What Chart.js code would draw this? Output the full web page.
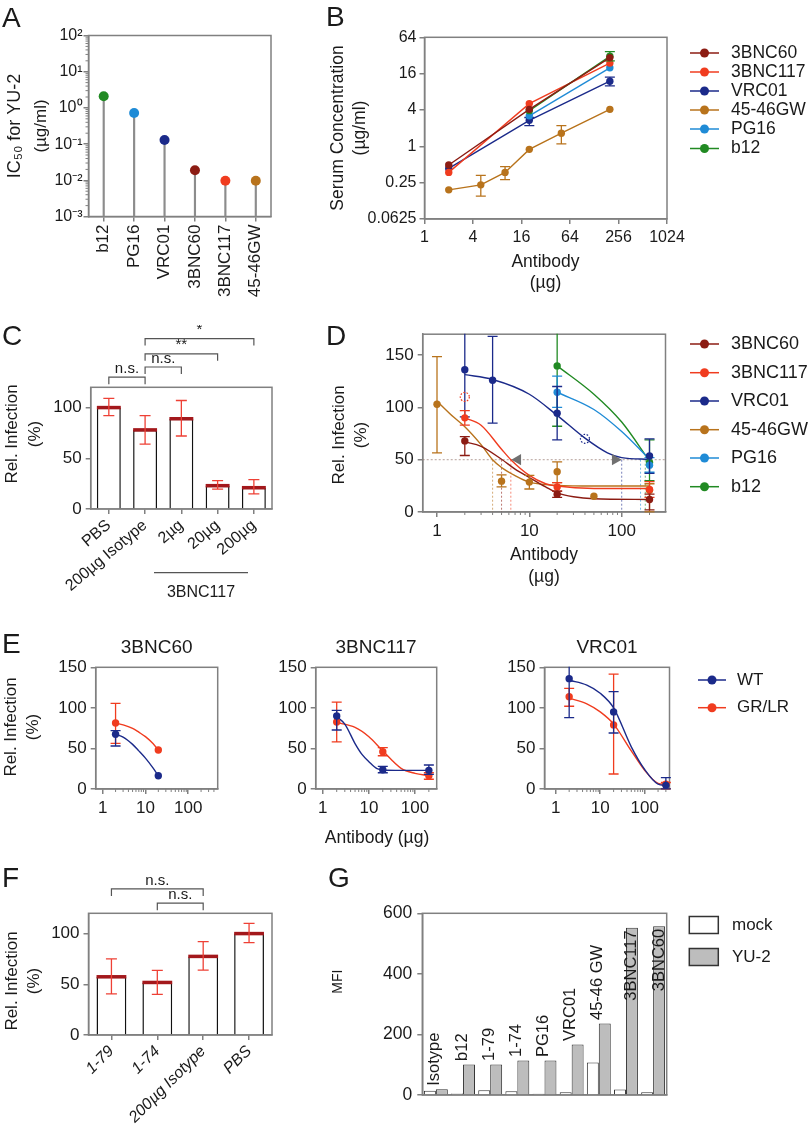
<!DOCTYPE html>
<html>
<head>
<meta charset="utf-8">
<script src="https://cdn.jsdelivr.net/npm/chart.js@4.4.1/dist/chart.umd.min.js"></script>
<style>
  body { margin: 0; background: #fff; }
  #page { position: relative; width: 810px; height: 1142px; overflow: hidden; background: #fff; }
  #page canvas { position: absolute; }
</style>
</head>
<body>
<div id="page"></div>
<script>
// ---- A: IC50 for YU-2 ----
const aLabels = ['b12', 'PG16', 'VRC01', '3BNC60', '3BNC117', '45-46GW'];
const aIC50 = [2.1, 0.72, 0.13, 0.019, 0.0097, 0.0097];
const aTicks = [0.001, 0.01, 0.1, 1, 10, 100];
const aTickText = ['10⁻³', '10⁻²', '10⁻¹', '10⁰', '10¹', '10²'];

// ---- B: serum concentration ----
const abNames = ['3BNC60', '3BNC117', 'VRC01', '45-46GW', 'PG16', 'b12'];
const bDose3 = [2, 20, 200];
const bDose2 = [20, 200];
const bDoseGW = [2, 5, 10, 20, 50, 200];
const b3BNC60 = [0.49, 4.1, 29.5];
const b3BNC117 = [0.37, 5.1, 24];
const bVRC01 = [0.43, 2.7, 12];
const bGW = [0.19, 0.23, 0.37, 0.89, 1.65, 4.1];
const bPG16 = [3.2, 20];
const bB12 = [3.9, 31];
const bErrVRC01 = [null, [2.2, 3.0], [10, 14]];
const bErrGW = [null, [0.15, 0.33], [0.28, 0.46], null, [1.1, 2.2], null];
const bErrB12 = [null, [26, 37]];
const bYTicks = [0.0625, 0.25, 1, 4, 16, 64];
const bXTicks = [1, 4, 16, 64, 256, 1024];

// ---- C: 3BNC117 dose ----
const cLabels = ['PBS', '200µg Isotype', '2µg', '20µg', '200µg'];
const cMean = [100, 78, 89, 23, 21];
const cErr = [[92, 109], [64, 92], [72, 107], [19.5, 28], [15, 29]];
const cBrackets = [[0, 1, 130, 'n.s.'], [1, 2, 140, 'n.s.'], [1, 3, 153, '**'], [1, 4, 168, '*']];
const pctTicks = [0, 50, 100];

// ---- D: relative infection ----
const d60X = [2, 20, 200], d60Y = [68, 17, 12], d60Err = [[54, 72], [14, 20], [2, 17]];
const d117X = [2, 20, 200], d117Y = [90, 24, 21.5], d117Err = [[83, 97], [20, 28], [14, 29]];
const dVRCX = [2, 4, 20, 200], dVRCY = [136, 126, 94.5, 53.5], dVRCErr = [[91, 185], [85, 168], [69, 120], [37, 70]];
const dGWX = [1, 5, 10, 20, 50, 200], dGWY = [103, 29.5, 28.6, 38.6, 15, 20.8];
const dGWErr = [[56.5, 148.5], [24, 35.5], [22, 35], [28, 48], null, [0, 27]];
const dPGX = [20, 200], dPGY = [114.5, 44.8], dPGErr = [[100, 130], [38, 52]];
const dB12X = [20, 200], dB12Y = [139.7, 47.3], dB12Err = [[82, 185], [30, 69]];
const d60FitX = [2, 3, 5, 7, 10, 15, 20, 30, 50, 200];
const d60Fit = [67, 62.8, 50.4, 41, 33, 24, 18.3, 14.6, 12.7, 12];
const d117FitX = [2, 3, 5, 6.3, 10, 15, 20, 50, 200];
const d117Fit = [90, 83, 60, 50, 35, 27, 24.8, 22.5, 22.4];
const dVRCFitX = [2, 4, 10, 20, 40, 70, 100, 200];
const dVRCFit = [131.3, 126.7, 112.6, 92.4, 70.6, 56.6, 52, 50.4];
const dGWFitX = [1, 1.5, 2, 3, 4, 5, 7, 10, 20, 50, 200];
const dGWFit = [106, 91, 81.5, 64.4, 50, 42.6, 34.8, 28.6, 25.5, 24.8, 24.8];
const dPGFitX = [20, 50, 100, 200], dPGFit = [114.5, 98, 76.9, 50.4];
const dB12FitX = [20, 50, 100, 200], dB12Fit = [139.7, 112.6, 86, 48.8];
const dIC50 = [5.0, 6.3, 100, 4.0, 160, 180];
const dArrowX = [7.5, 85], dArrowY = [50, 50];
const dOutX = [2, 40], dOutY = [110, 70];
const dYTicks = [0, 50, 100, 150];
const decTicks = [1, 10, 100];

// ---- E: WT vs GR/LR ----
const e60X = [2, 20];
const e60WT = [67.4, 16.4], e60WTErr = [[53, 72], null];
const e60GR = [81.3, 48], e60GRErr = [[56.3, 105.6], null];
const e60FitX = [2, 3, 5, 7, 10, 15, 20];
const e60WTFit = [67.4, 64, 55, 47, 38, 26, 16.4];
const e60GRFit = [81.3, 79, 74.8, 70, 64.5, 56, 48];
const e117X = [2, 20, 200];
const e117WT = [90, 23.8, 23], e117WTErr = [[72.7, 97], [20, 28], [18, 29.6]];
const e117GR = [82.6, 46, 16.4], e117GRErr = [[58, 107], [41, 51], [12, 20]];
const e117WTFitX = [2, 3, 5, 7, 10, 15, 20, 50, 200];
const e117WTFit = [89, 80, 56, 43, 33.7, 25, 23.5, 23, 23];
const e117GRFitX = [2, 5, 10, 20, 50, 100, 200];
const e117GRFit = [82, 76, 64.5, 47, 25.5, 19.3, 16.4];
const eVRCX = [2, 20, 300];
const eVRCWT = [136, 95, 4.5], eVRCWTErr = [[88, 185], [69, 120], [0, 14]];
const eVRCGR = [113.8, 79, 5.8], eVRCGRErr = [[102, 124], [18.5, 141.7], [0, 8]];
const eVRCFitX = [2, 5, 10, 20, 50, 100, 200, 300];
const eVRCWTFit = [134, 128, 118, 100, 52, 24, 6, 4.5];
const eVRCGRFit = [112, 105, 95, 80, 47, 23, 7, 5.8];
const eYTicks = [0, 50, 100, 150];

// ---- F: other antibodies ----
const fLabels = ['1-79', '1-74', '200µg Isotype', 'PBS'];
const fMean = [57.4, 51.8, 77.5, 100];
const fErr = [[40.6, 75], [40, 63.7], [64, 92], [91, 110]];
const fBrackets = [[0, 2, 144, 'n.s.'], [1, 2, 130, 'n.s.']];

// ---- G: MFI ----
const gLabels = ['Isotype', 'b12', '1-79', '1-74', 'PG16', 'VRC01', '45-46 GW', '3BNC117', '3BNC60'];
const gMock = [14, 5, 16, 12, 4, 9, 107, 18, 9];
const gYU2 = [19, 101, 101, 114, 114, 167, 236, 552, 557];
const gTicks = [0, 200, 400, 600];

// ---- styling ----
const FONT = "'Liberation Sans', Arial, sans-serif";
const INK = '#1a1a1a';
const AXIS = '#808080';
const COL = {
  '3BNC60': '#8c1c13', '3BNC117': '#f03c1f', 'VRC01': '#1b2a8a',
  '45-46GW': '#b8731c', 'PG16': '#1f8bd6', 'b12': '#218a23'
};
const WTC = '#1b2a8a', GRC = '#f03c1f';

Chart.defaults.font.family = FONT;
Chart.defaults.color = INK;
Chart.defaults.animation = false;
Chart.defaults.responsive = false;
Chart.defaults.devicePixelRatio = 1;
Chart.defaults.plugins.legend.display = false;
Chart.defaults.plugins.tooltip.enabled = false;

const extras = new Map();

function xy(xs, ys) { return xs.map((x, i) => ({ x: x, y: ys[i] })); }

function logMinors(lo, hi) {
  const out = [];
  for (let e = Math.floor(Math.log10(lo)); e <= Math.ceil(Math.log10(hi)); e++)
    for (let m = 2; m <= 9; m++) {
      const v = m * Math.pow(10, e);
      if (v > lo * 1.0001 && v < hi * 0.9999) out.push(v);
    }
  return out;
}

function axis(o) {
  const ax = {
    type: o.type || 'linear',
    offset: !!o.offset,
    grid: { drawOnChartArea: false, drawTicks: !o.noTicks, tickLength: 5, color: AXIS, tickColor: AXIS, tickWidth: 1.5, lineWidth: 1.5, offset: false },
    border: { color: AXIS, width: 1.5 },
    ticks: { display: !o.noLabels, font: { size: o.size || 17, style: o.italic ? 'italic' : 'normal' }, color: INK, padding: o.pad ?? 3, autoSkip: false, maxRotation: o.rot || 0, minRotation: o.rot || 0 }
  };
  if (o.min !== undefined) ax.min = o.min;
  if (o.max !== undefined) ax.max = o.max;
  if (o.fmt) ax.ticks.callback = o.fmt;
  if (o.major) ax.afterBuildTicks = s => { s.ticks = o.major.map(v => ({ value: v })); };
  return ax;
}

function panel(box, area, config, ex) {
  const cv = document.createElement('canvas');
  cv.width = box[2]; cv.height = box[3];
  cv.style.left = box[0] + 'px'; cv.style.top = box[1] + 'px';
  cv.style.width = box[2] + 'px'; cv.style.height = box[3] + 'px';
  document.getElementById('page').appendChild(cv);
  ex.box = box;
  extras.set(cv, ex);
  const o = config.options;
  o.layout = { padding: { left: 0, top: area.t - box[1], right: box[0] + box[2] - area.r, bottom: 0 } };
  Object.values(o.scales).forEach(sc => {
    sc.afterFit = s => {
      if (s.isHorizontal()) s.height = box[1] + box[3] - area.b;
      else s.width = area.l - box[0];
    };
  });
  return new Chart(cv, config);
}

function drawErrors(chart, index) {
  const ds = chart.data.datasets[index];
  const meta = chart.getDatasetMeta(index);
  const ys = chart.scales[meta.yAxisID];
  const a = chart.chartArea, ctx = chart.ctx;
  const w = ds.capHalf || 5;
  ctx.save();
  ctx.beginPath();
  ctx.rect(a.left - 10, a.top - 0.5, a.right - a.left + 20, a.bottom - a.top + 1);
  ctx.clip();
  ctx.strokeStyle = ds.errorColor || ds.borderColor;
  ctx.lineWidth = ds.errorWidth || 1.3;
  meta.data.forEach((el, j) => {
    const e = ds.errors[j];
    if (!e) return;
    const lo = ys.getPixelForValue(e[0]), hi = ys.getPixelForValue(e[1]);
    ctx.beginPath();
    ctx.moveTo(el.x, lo); ctx.lineTo(el.x, hi);
    ctx.moveTo(el.x - w, lo); ctx.lineTo(el.x + w, lo);
    ctx.moveTo(el.x - w, hi); ctx.lineTo(el.x + w, hi);
    ctx.stroke();
  });
  ctx.restore();
}

function drawMeans(chart, index) {
  const ds = chart.data.datasets[index];
  const ctx = chart.ctx;
  ctx.save();
  ctx.strokeStyle = ds.meanColor;
  ctx.lineWidth = 3.5;
  chart.getDatasetMeta(index).data.forEach(el => {
    ctx.beginPath();
    ctx.moveTo(el.x - el.width / 2, el.y);
    ctx.lineTo(el.x + el.width / 2, el.y);
    ctx.stroke();
  });
  ctx.restore();
}

function drawBrackets(chart, list) {
  const ctx = chart.ctx, xs = chart.scales.x, ys = chart.scales.y;
  ctx.save();
  ctx.strokeStyle = '#555'; ctx.lineWidth = 1.2; ctx.fillStyle = INK;
  ctx.font = '15px ' + FONT; ctx.textAlign = 'center'; ctx.textBaseline = 'bottom';
  list.forEach(([a, b, v, t]) => {
    const x1 = xs.getPixelForValue(a), x2 = xs.getPixelForValue(b), y = ys.getPixelForValue(v);
    ctx.beginPath();
    ctx.moveTo(x1, y + 7); ctx.lineTo(x1, y); ctx.lineTo(x2, y); ctx.lineTo(x2, y + 7);
    ctx.stroke();
    ctx.fillText(t, (x1 + x2) / 2, y - 1);
  });
  ctx.restore();
}

function drawText(ctx, box, it) {
  ctx.save();
  ctx.font = (it.italic ? 'italic ' : '') + (it.size || 17) + 'px ' + FONT;
  ctx.fillStyle = it.color || INK;
  ctx.textAlign = it.align || 'center';
  ctx.textBaseline = it.base || 'middle';
  ctx.translate(it.x - box[0], it.y - box[1]);
  if (it.rot) ctx.rotate(it.rot * Math.PI / 180);
  ctx.fillText(it.t, 0, 0);
  ctx.restore();
}

function drawLegend(ctx, box, lg) {
  ctx.save();
  lg.items.forEach((it, i) => {
    const y = lg.ys[i] - box[1];
    const x1 = lg.x1 - box[0], x2 = lg.x2 - box[0];
    if (lg.kind === 'rect') {
      ctx.fillStyle = it.fill;
      ctx.fillRect(x1, y - lg.h / 2, x2 - x1, lg.h);
      ctx.strokeStyle = '#333'; ctx.lineWidth = 1.5;
      ctx.strokeRect(x1, y - lg.h / 2, x2 - x1, lg.h);
    } else {
      ctx.strokeStyle = it.color; ctx.lineWidth = 1.5;
      ctx.beginPath(); ctx.moveTo(x1, y); ctx.lineTo(x2, y); ctx.stroke();
      ctx.fillStyle = it.color;
      ctx.beginPath(); ctx.arc((x1 + x2) / 2, y, 4.5, 0, Math.PI * 2); ctx.fill();
    }
    ctx.fillStyle = INK;
    ctx.font = lg.size + 'px ' + FONT;
    ctx.textAlign = 'left'; ctx.textBaseline = 'middle';
    ctx.fillText(it.label, lg.tx - box[0], y);
  });
  ctx.restore();
}

const deco = {
  id: 'deco',
  beforeDatasetsDraw(chart) {
    const ex = extras.get(chart.canvas);
    if (!ex) return;
    const ctx = chart.ctx, a = chart.chartArea;
    ctx.save();
    ctx.strokeStyle = AXIS; ctx.lineWidth = 1;
    (ex.minor || []).forEach(m => {
      const sc = chart.scales[m.axis];
      m.values.forEach(v => {
        const p = sc.getPixelForValue(v);
        ctx.beginPath();
        if (m.axis === 'x') { ctx.moveTo(p, a.bottom); ctx.lineTo(p, a.bottom + 3); }
        else { ctx.moveTo(a.left, p); ctx.lineTo(a.left - 3, p); }
        ctx.stroke();
      });
    });
    // box frame
    ctx.lineWidth = 1.5;
    ctx.strokeRect(a.left, a.top, a.right - a.left, a.bottom - a.top);
    ctx.restore();
    if (ex.under) ex.under(chart, ctx);
  },
  beforeDatasetDraw(chart, args) {
    const ds = chart.data.datasets[args.index];
    if (ds.errors && !ds.errorsOnTop) drawErrors(chart, args.index);
  },
  afterDatasetDraw(chart, args) {
    const ds = chart.data.datasets[args.index];
    if (ds.meanColor) drawMeans(chart, args.index);
    if (ds.errors && ds.errorsOnTop) drawErrors(chart, args.index);
  },
  afterDraw(chart) {
    const ex = extras.get(chart.canvas);
    if (!ex) return;
    const ctx = chart.ctx, box = ex.box;
    if (ex.over) ex.over(chart, ctx);
    if (ex.brackets) drawBrackets(chart, ex.brackets);
    (ex.lines || []).forEach(l => {
      ctx.save(); ctx.strokeStyle = '#555'; ctx.lineWidth = 1.2;
      ctx.beginPath(); ctx.moveTo(l[0] - box[0], l[1] - box[1]); ctx.lineTo(l[2] - box[0], l[3] - box[1]); ctx.stroke();
      ctx.restore();
    });
    (ex.texts || []).forEach(t => drawText(ctx, box, t));
    if (ex.legend) drawLegend(ctx, box, ex.legend);
  }
};
Chart.register(deco);

function letter(t, x, y) { return { t: t, x: x, y: y, size: 28, align: 'left', base: 'alphabetic' }; }
function vtitle(t, x, y, size) { return { t: t, x: x, y: y, size: size || 17, rot: -90 }; }

function pointSet(label, color, xs, ys, err) {
  return { type: 'line', label: label, data: xy(xs, ys), showLine: false, pointRadius: 3.7, pointHoverRadius: 3.7,
    pointBackgroundColor: color, pointBorderWidth: 0, borderColor: color, errors: err, capHalf: 5, order: 0, clip: 12 };
}
function fitSet(color, xs, ys) {
  return { type: 'line', data: xy(xs, ys), pointRadius: 0, borderColor: color, borderWidth: 1.4,
    cubicInterpolationMode: 'monotone', order: 1 };
}
function lineSet(label, color, xs, ys, err) {
  const s = pointSet(label, color, xs, ys, err);
  s.showLine = true; s.borderWidth = 1.4; s.tension = 0;
  return s;
}

// ================= A =================
panel([0, 0, 290, 325], { l: 88.5, t: 35.5, r: 271, b: 216.5 }, {
  type: 'bar',
  data: {
    labels: aLabels,
    datasets: [
      { type: 'line', data: aIC50, showLine: false, pointRadius: 5, pointHoverRadius: 5,
        pointBackgroundColor: aLabels.map(n => COL[n]), pointBorderWidth: 0, order: 0, clip: 12 },
      { type: 'bar', data: aIC50.map(v => [aTicks[0], v]), backgroundColor: '#8c8c8c', barThickness: 1.5, order: 1 }
    ]
  },
  options: {
    scales: {
      x: axis({ type: 'category', offset: true, rot: 90, size: 17 }),
      y: axis({ type: 'logarithmic', min: aTicks[0], max: aTicks[aTicks.length - 1], major: aTicks,
        fmt: (v, i) => aTickText[i], size: 16, pad: 1 })
    }
  }
}, {
  minor: [{ axis: 'y', values: logMinors(0.001, 100) }],
  texts: [letter('A', 2, 27), vtitle('IC₅₀ for YU-2', 15, 126, 18), vtitle('(µg/ml)', 41, 126, 17)]
});

// ================= B =================
panel([320, 0, 490, 320], { l: 424.5, t: 37.3, r: 667, b: 219 }, {
  type: 'line',
  data: {
    datasets: [
      lineSet('3BNC60', COL['3BNC60'], bDose3, b3BNC60, null),
      lineSet('b12', COL['b12'], bDose2, bB12, bErrB12),
      lineSet('3BNC117', COL['3BNC117'], bDose3, b3BNC117, null),
      lineSet('PG16', COL['PG16'], bDose2, bPG16, null),
      lineSet('VRC01', COL['VRC01'], bDose3, bVRC01, bErrVRC01),
      lineSet('45-46GW', COL['45-46GW'], bDoseGW, bGW, bErrGW)
    ]
  },
  options: {
    scales: {
      x: axis({ type: 'logarithmic', min: 1, max: 1024, major: bXTicks, fmt: v => String(v), size: 16, pad: 4 }),
      y: axis({ type: 'logarithmic', min: 0.0625, max: 64, major: bYTicks, fmt: v => String(v), size: 16, pad: 3 })
    }
  }
}, {
  texts: [letter('B', 326, 26), vtitle('Serum Concentration', 338, 128, 17.5), vtitle('(µg/ml)', 360, 128, 17.5),
    { t: 'Antibody', x: 545.5, y: 262, size: 17.5 }, { t: '(µg)', x: 545.5, y: 283, size: 17.5 }],
  legend: { x1: 690, x2: 719, tx: 731, size: 17.5, ys: [53, 72, 91, 110, 129, 148.5],
    items: abNames.map(n => ({ label: n, color: COL[n] })) }
});

// ================= C =================
panel([0, 325, 300, 290], { l: 90.7, t: 387.3, r: 272, b: 509 }, {
  type: 'bar',
  data: {
    labels: cLabels,
    datasets: [{ data: cMean, backgroundColor: '#fff', borderColor: '#111', borderWidth: 1.5,
      barPercentage: 0.66, categoryPercentage: 1, meanColor: '#a3181c',
      errors: cErr, errorsOnTop: true, errorColor: '#ee4035', capHalf: 5.5 }]
  },
  options: {
    scales: {
      x: axis({ type: 'category', offset: true, rot: 40, size: 16, pad: 2 }),
      y: axis({ min: 0, max: 120, major: pctTicks, size: 17, pad: 4 })
    }
  }
}, {
  brackets: cBrackets,
  lines: [[154, 572.7, 248, 572.7]],
  texts: [letter('C', 2, 345), vtitle('Rel. Infection', 12, 434), vtitle('(%)', 35, 434),
    { t: '3BNC117', x: 201, y: 593, size: 16 }]
});

// ================= D =================
panel([320, 320, 490, 290], { l: 422.7, t: 330, r: 665.5, b: 512 }, {
  type: 'line',
  data: {
    datasets: [
      pointSet('3BNC60', COL['3BNC60'], d60X, d60Y, d60Err),
      pointSet('3BNC117', COL['3BNC117'], d117X, d117Y, d117Err),
      pointSet('VRC01', COL['VRC01'], dVRCX, dVRCY, dVRCErr),
      pointSet('45-46GW', COL['45-46GW'], dGWX, dGWY, dGWErr),
      pointSet('PG16', COL['PG16'], dPGX, dPGY, dPGErr),
      pointSet('b12', COL['b12'], dB12X, dB12Y, dB12Err),
      fitSet(COL['3BNC60'], d60FitX, d60Fit),
      fitSet(COL['3BNC117'], d117FitX, d117Fit),
      fitSet(COL['VRC01'], dVRCFitX, dVRCFit),
      fitSet(COL['45-46GW'], dGWFitX, dGWFit),
      fitSet(COL['PG16'], dPGFitX, dPGFit),
      fitSet(COL['b12'], dB12FitX, dB12Fit),
      { type: 'line', data: xy(dArrowX, dArrowY), showLine: false, pointStyle: 'triangle', pointRadius: 6.5,
        pointRotation: [-90, 90], pointBackgroundColor: '#707070', pointBorderWidth: 0, order: 0 }
    ]
  },
  options: {
    scales: {
      x: axis({ type: 'logarithmic', min: 0.706, max: 298, major: decTicks, fmt: v => String(v), size: 17, pad: 4 }),
      y: axis({ min: 0, max: 170, major: dYTicks, size: 17, pad: 4 })
    }
  }
}, {
  minor: [{ axis: 'x', values: logMinors(0.706, 298).filter(v => v > 1) }],
  under(chart, ctx) {
    const xs = chart.scales.x, ys = chart.scales.y, a = chart.chartArea;
    const y50 = ys.getPixelForValue(50);
    ctx.save();
    ctx.lineWidth = 1; ctx.setLineDash([2, 2]);
    ctx.strokeStyle = 'rgba(150,120,110,0.7)';
    ctx.beginPath(); ctx.moveTo(a.left, y50); ctx.lineTo(a.right, y50); ctx.stroke();
    dIC50.forEach((v, i) => {
      const x = xs.getPixelForValue(v);
      ctx.strokeStyle = COL[abNames[i]];
      ctx.globalAlpha = 0.6;
      ctx.beginPath(); ctx.moveTo(x, y50); ctx.lineTo(x, a.bottom); ctx.stroke();
    });
    ctx.restore();
  },
  over(chart, ctx) {
    const xs = chart.scales.x, ys = chart.scales.y;
    const cols = [COL['3BNC117'], COL['VRC01']];
    ctx.save();
    ctx.lineWidth = 1.2; ctx.setLineDash([1.6, 1.6]);
    dOutX.forEach((v, i) => {
      ctx.strokeStyle = cols[i];
      ctx.beginPath(); ctx.arc(xs.getPixelForValue(v), ys.getPixelForValue(dOutY[i]), 4.5, 0, Math.PI * 2); ctx.stroke();
    });
    ctx.restore();
  },
  texts: [letter('D', 326, 345), vtitle('Rel. Infection', 339, 435), vtitle('(%)', 361, 435),
    { t: 'Antibody', x: 544, y: 555, size: 17.5 }, { t: '(µg)', x: 544, y: 577, size: 17.5 }],
  legend: { x1: 690, x2: 719, tx: 731, size: 18, ys: [344, 372.7, 401, 429.7, 458, 486.7],
    items: abNames.map(n => ({ label: n, color: COL[n] })) }
});

// ================= E =================
function ePanel(box, area, xmax, xmin, sets, ex) {
  return panel(box, area, {
    type: 'line',
    data: { datasets: sets },
    options: {
      scales: {
        x: axis({ type: 'logarithmic', min: xmin, max: xmax, major: decTicks, fmt: v => String(v), size: 17, pad: 4 }),
        y: axis({ min: 0, max: 150, major: eYTicks, size: 17, pad: 4 })
      }
    }
  }, Object.assign({ minor: [{ axis: 'x', values: logMinors(xmin, xmax).filter(v => v > 1) }] }, ex));
}

ePanel([0, 615, 240, 240], { l: 95.7, t: 667.3, r: 217.7, b: 789 }, 490, 0.686, [
  pointSet('WT', WTC, e60X, e60WT, e60WTErr),
  pointSet('GR/LR', GRC, e60X, e60GR, e60GRErr),
  fitSet(WTC, e60FitX, e60WTFit),
  fitSet(GRC, e60FitX, e60GRFit)
], {
  texts: [letter('E', 2, 653), { t: '3BNC60', x: 156.7, y: 648, size: 19 },
    vtitle('Rel. Infection', 11, 727), vtitle('(%)', 33, 727)]
});

ePanel([240, 630, 215, 225], { l: 315.7, t: 667.3, r: 436.7, b: 789 }, 296, 0.72, [
  pointSet('WT', WTC, e117X, e117WT, e117WTErr),
  pointSet('GR/LR', GRC, e117X, e117GR, e117GRErr),
  fitSet(WTC, e117WTFitX, e117WTFit),
  fitSet(GRC, e117GRFitX, e117GRFit)
], {
  texts: [{ t: '3BNC117', x: 376, y: 648, size: 19 }, { t: 'Antibody (µg)', x: 377, y: 838, size: 17.5 }]
});

ePanel([455, 630, 355, 225], { l: 544.5, t: 667.3, r: 669.5, b: 789 }, 362, 0.557, [
  pointSet('WT', WTC, eVRCX, eVRCWT, eVRCWTErr),
  pointSet('GR/LR', GRC, eVRCX, eVRCGR, eVRCGRErr),
  fitSet(WTC, eVRCFitX, eVRCWTFit),
  fitSet(GRC, eVRCFitX, eVRCGRFit)
], {
  texts: [{ t: 'VRC01', x: 607, y: 648, size: 19 }],
  legend: { x1: 698, x2: 726, tx: 737, size: 17, ys: [680, 707.7],
    items: [{ label: 'WT', color: WTC }, { label: 'GR/LR', color: GRC }] }
});

// ================= F =================
panel([0, 855, 300, 287], { l: 88.5, t: 913.3, r: 272, b: 1035 }, {
  type: 'bar',
  data: {
    labels: fLabels,
    datasets: [{ data: fMean, backgroundColor: '#fff', borderColor: '#111', borderWidth: 1.5,
      barPercentage: 0.65, categoryPercentage: 1, meanColor: '#a3181c',
      errors: fErr, errorsOnTop: true, errorColor: '#ee4035', capHalf: 5.5 }]
  },
  options: {
    scales: {
      x: axis({ type: 'category', offset: true, rot: 45, size: 16, pad: 2, italic: true }),
      y: axis({ min: 0, max: 120, major: pctTicks, size: 17, pad: 4 })
    }
  }
}, {
  brackets: fBrackets,
  texts: [letter('F', 2, 887), vtitle('Rel. Infection', 12, 981), vtitle('(%)', 34, 981)]
});

// ================= G =================
panel([300, 855, 510, 287], { l: 422.3, t: 913.3, r: 666.7, b: 1095 }, {
  type: 'bar',
  data: {
    labels: gLabels,
    datasets: [
      { label: 'mock', data: gMock, backgroundColor: '#fff', borderColor: '#333', borderWidth: 1,
        categoryPercentage: 0.88, barPercentage: 1 },
      { label: 'YU-2', data: gYU2, backgroundColor: '#bdbdbd', borderColor: '#333', borderWidth: 1,
        categoryPercentage: 0.88, barPercentage: 1 }
    ]
  },
  options: {
    scales: {
      x: axis({ type: 'category', offset: true, noTicks: true, noLabels: true }),
      y: axis({ min: 0, max: 600, major: gTicks, size: 17.5, pad: 5 })
    }
  }
}, {
  over(chart, ctx) {
    const xs = chart.scales.x, ys = chart.scales.y, a = chart.chartArea;
    const yuBars = chart.getDatasetMeta(1).data;
    ctx.save();
    ctx.font = '16.5px ' + FONT; ctx.fillStyle = INK; ctx.textBaseline = 'middle';
    gLabels.forEach((t, i) => {
      const top = ys.getPixelForValue(Math.max(gMock[i], gYU2[i]));
      const w = ctx.measureText(t).width;
      ctx.save();
      if (top - 3 - w < a.top) {
        ctx.translate(yuBars[i].x, top + 2.5);
        ctx.rotate(-Math.PI / 2);
        ctx.textAlign = 'right';
      } else {
        ctx.translate(xs.getPixelForValue(i) - 1, top - 3.5);
        ctx.rotate(-Math.PI / 2);
        ctx.textAlign = 'left';
      }
      ctx.fillText(t, 0, 0);
      ctx.restore();
    });
    ctx.restore();
  },
  texts: [letter('G', 328, 887), vtitle('MFI', 338, 981.7, 14)],
  legend: { kind: 'rect', x1: 689.3, x2: 718.3, h: 17, tx: 732, size: 17, ys: [925, 957],
    items: [{ label: 'mock', fill: '#fff' }, { label: 'YU-2', fill: '#bdbdbd' }] }
});
</script>
</body>
</html>
